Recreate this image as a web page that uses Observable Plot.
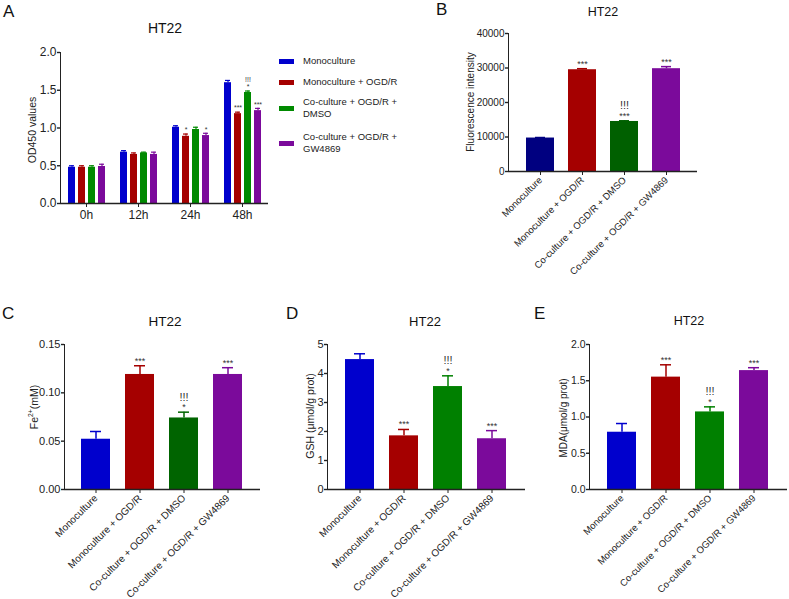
<!DOCTYPE html>
<html><head><meta charset="utf-8">
<script src="https://cdn.jsdelivr.net/npm/d3@7"></script>
<script src="https://cdn.jsdelivr.net/npm/@observablehq/plot@0.6"></script>
<style>
body{margin:0;background:#fff;font-family:"Liberation Sans",Arial,sans-serif;}
#fig{position:relative;width:789px;height:599px;overflow:hidden;background:#fff;}
.p{position:absolute;}
.lab{position:absolute;font-size:17px;line-height:1;color:#111;}
.ttl{position:absolute;line-height:1;color:#111;transform:translateX(-50%);white-space:nowrap;}
.leg{position:absolute;font-size:9.5px;line-height:12px;color:#222;}
.sw{position:absolute;width:15px;height:5px;}
.yl{position:absolute;line-height:1;color:#222;white-space:nowrap;transform:translate(-50%,-50%) rotate(-90deg);}
.yl sup{font-size:0.65em;line-height:0;}
#fig svg g[aria-label^="y-axis"] path, #fig svg g[aria-label^="y-axis"] line{stroke-width:1.4;}
#fig svg.pb g[aria-label^="y-axis"] text{font-size:10px;}
#fig svg.pc g[aria-label^="y-axis"] text{font-size:11px;}
#fig svg.pd g[aria-label^="y-axis"] text{font-size:11px;}
#fig svg.pe g[aria-label^="y-axis"] text{font-size:10.5px;}
</style></head>
<body><div id="fig"></div>
<script>
// ---------- data ----------
const groups = ["Monoculture", "Monoculture + OGD/R", "Co-culture + OGD/R + DMSO", "Co-culture + OGD/R + GW4869"];
const times = ["0h", "12h", "24h", "48h"];
// Panel A: OD450 values (rows = time, cols = group)
const odMean = [[0.48, 0.48, 0.48, 0.49], [0.68, 0.65, 0.67, 0.65], [1.01, 0.89, 0.98, 0.90], [1.60, 1.19, 1.47, 1.23]];
const odErr  = [[0.02, 0.02, 0.02, 0.03], [0.02, 0.02, 0.01, 0.03], [0.02, 0.03, 0.03, 0.03], [0.03, 0.02, 0.02, 0.03]];
const odSig  = [["", "", "", ""], ["", "", "", ""], ["", "*", "", "*"], ["", "***", "*", "***"]];
const odSig2 = [["", "", "", ""], ["", "", "", ""], ["", "", "", ""], ["", "", "!!!", ""]];
// Panel B: fluorescence intensity
const fluoMean = [9700, 29500, 14500, 29800];
const fluoErr  = [150, 300, 200, 600];
const fluoSig  = ["", "***", "***", "***"];
const fluoSig2 = ["", "", "!!!", ""];
// Panel C: Fe2+ (mM)
const feMean = [0.052, 0.119, 0.074, 0.119];
const feErr  = [0.008, 0.009, 0.006, 0.007];
const feSig  = ["", "***", "*", "***"];
const feSig2 = ["", "", "!!!", ""];
// Panel D: GSH
const gshMean = [4.48, 1.85, 3.55, 1.75];
const gshErr  = [0.20, 0.22, 0.37, 0.28];
const gshSig  = ["", "***", "*", "***"];
const gshSig2 = ["", "", "!!!", ""];
// Panel E: MDA
const mdaMean = [0.79, 1.55, 1.07, 1.64];
const mdaErr  = [0.12, 0.17, 0.07, 0.04];
const mdaSig  = ["", "***", "*", "***"];
const mdaSig2 = ["", "", "!!!", ""];

const colA = ["#0000CD", "#A50000", "#008A00", "#7B0A9B"];
const colB = ["#000080", "#A50000", "#006000", "#7B0A9B"];
const colC = ["#0000CD", "#A50000", "#006400", "#7B0A9B"];
const colD = ["#0000CD", "#A50000", "#008000", "#7B0A9B"];

const fig = document.getElementById("fig");
const baseStyle = (fs) => ({fontFamily: "'Liberation Sans', Arial, sans-serif", fontSize: fs + "px", color: "#222", background: "transparent", overflow: "visible"});

function place(el, left, top, cls) {
  el.classList.add("p");
  if (cls) el.classList.add(cls);
  el.style.left = left + "px";
  el.style.top = top + "px";
  fig.appendChild(el);
}
function html(cls, text, left, top, extra) {
  const d = document.createElement("div");
  d.className = cls;
  d.innerHTML = text;
  d.style.left = left + "px";
  d.style.top = top + "px";
  if (extra) Object.assign(d.style, extra);
  fig.appendChild(d);
}

// ---------- Panel A ----------
const odRows = [];
times.forEach((t, i) => groups.forEach((g, j) => odRows.push({time: t, group: g, mean: odMean[i][j], err: odErr[i][j], sig: odSig[i][j], sig2: odSig2[i][j]})));
const plotA = Plot.plot({
  width: 275, height: 190, marginLeft: 59, marginRight: 7, marginTop: 12, marginBottom: 27,
  style: baseStyle(12),
  fx: {domain: times, padding: 0, label: null, tickSize: 4, axis: "bottom", tickPadding: 3},
  x: {domain: groups, axis: null, paddingInner: 0.32, paddingOuter: 0.54},
  y: {domain: [0, 2], ticks: [0, 0.5, 1, 1.5, 2], tickFormat: d3.format(".1f"), line: true, tickSize: 3, tickPadding: 1, label: null},
  color: {domain: groups, range: colA},
  marks: [
    Plot.barY(odRows, {fx: "time", x: "group", y: "mean", fill: "group"}),
    Plot.ruleX(odRows, {fx: "time", x: "group", y1: "mean", y2: d => d.mean + d.err, stroke: "group", strokeWidth: 1.2}),
    Plot.tickY(odRows, {fx: "time", x: "group", y: d => d.mean + d.err, stroke: "group", strokeWidth: 1.2, insetLeft: 1, insetRight: 1}),
    Plot.text(odRows, {fx: "time", x: "group", y: d => d.mean + d.err, text: "sig", dy: -4, fontSize: 7, fill: "#333"}),
    Plot.text(odRows, {fx: "time", x: "group", y: d => d.mean + d.err, text: "sig2", dy: -11, fontSize: 7, fill: "#333"}),
    Plot.ruleY([0], {strokeWidth: 1.5, stroke: "#222"})
  ]
});
place(plotA, 0, 40, "pa");

// ---------- Single-group bar panels ----------
function barPanel(o) {
  const rows = groups.map((g, i) => ({group: g, mean: o.mean[i], err: o.err[i], sig: o.sig[i], sig2: o.sig2[i]}));
  return Plot.plot({
    width: o.width, height: o.height, marginLeft: o.ml, marginRight: o.mr, marginTop: o.mt, marginBottom: o.mb,
    style: baseStyle(o.fs),
    x: {domain: groups, paddingInner: o.pi, paddingOuter: o.po, tickRotate: -45, tickSize: 4, label: null, tickPadding: 3},
    y: {domain: o.yDomain, ticks: o.yTicks, tickFormat: o.yFormat, line: true, tickSize: 3, tickPadding: 1, label: null},
    color: {domain: groups, range: o.colors},
    marks: [
      Plot.barY(rows, {x: "group", y: "mean", fill: "group"}),
      Plot.ruleX(rows, {x: "group", y1: "mean", y2: d => d.mean + d.err, stroke: "group", strokeWidth: 1.5}),
      Plot.tickY(rows, {x: "group", y: d => d.mean + d.err, stroke: "group", strokeWidth: 1.5, insetLeft: o.capInset, insetRight: o.capInset}),
      Plot.text(rows, {x: "group", y: d => d.mean + d.err, text: "sig", dy: -5, fontSize: 9, fill: "#333"}),
      Plot.text(rows, {x: "group", y: d => d.mean + d.err, text: "sig2", dy: -15, fontSize: 11, fill: "#333"}),
      Plot.ruleY([0], {strokeWidth: 1.5, stroke: "#222"})
    ]
  });
}

const plotB = barPanel({mean: fluoMean, err: fluoErr, sig: fluoSig, sig2: fluoSig2, colors: colB, fs: 9.5,
  width: 290, height: 280, ml: 88, mr: 13, mt: 13, mb: 129, pi: 0.34, po: 0.37,
  yDomain: [0, 40000], yTicks: [0, 10000, 20000, 30000, 40000], yFormat: d3.format("d"), capInset: 9});
place(plotB, 420, 20, "pb");

const plotC = barPanel({mean: feMean, err: feErr, sig: feSig, sig2: feSig2, colors: colC, fs: 10,
  width: 270, height: 269, ml: 64, mr: 10, mt: 14, mb: 110, pi: 0.333, po: 0.367,
  yDomain: [0, 0.15], yTicks: [0, 0.05, 0.10, 0.15], yFormat: d3.format(".2f"), capInset: 9});
place(plotC, 0, 330, "pc");

const plotD = barPanel({mean: gshMean, err: gshErr, sig: gshSig, sig2: gshSig2, colors: colD, fs: 10,
  width: 265, height: 269, ml: 62, mr: 5, mt: 14, mb: 110, pi: 0.333, po: 0.367,
  yDomain: [0, 5], yTicks: [0, 1, 2, 3, 4, 5], yFormat: d3.format("d"), capInset: 9});
place(plotD, 265, 330, "pd");

const plotE = barPanel({mean: mdaMean, err: mdaErr, sig: mdaSig, sig2: mdaSig2, colors: colD, fs: 9.5,
  width: 259, height: 269, ml: 59, mr: 2, mt: 14, mb: 110, pi: 0.333, po: 0.367,
  yDomain: [0, 2], yTicks: [0, 0.5, 1, 1.5, 2], yFormat: d3.format(".1f"), capInset: 9});
place(plotE, 530, 330, "pe");

// ---------- y-axis labels ----------
html("yl", "OD450 values", 32, 130, {fontSize: "10.5px"});
html("yl", "Fluorescence intensity", 471, 102, {fontSize: "10px"});
html("yl", "Fe<sup>2+</sup>(mM)", 34, 407, {fontSize: "10.5px"});
html("yl", "GSH (μmol/g prot)", 310, 416, {fontSize: "10.5px"});
html("yl", "MDA(μmol/g prot)", 564, 418, {fontSize: "10px"});

// ---------- panel letters & titles ----------
html("lab", "A", 3, 3);
html("lab", "B", 436, 1);
html("lab", "C", 2, 305);
html("lab", "D", 286, 305);
html("lab", "E", 534, 305);
html("ttl", "HT22", 165, 21, {fontSize: "14px"});
html("ttl", "HT22", 603, 6, {fontSize: "12.5px"});
html("ttl", "HT22", 165, 315, {fontSize: "13.5px"});
html("ttl", "HT22", 425, 315, {fontSize: "13px"});
html("ttl", "HT22", 689, 315, {fontSize: "12.5px"});

// ---------- legend for panel A ----------
const legLines = ["Monoculture", "Monoculture + OGD/R", "Co-culture + OGD/R +<br>DMSO", "Co-culture + OGD/R +<br>GW4869"];
const legY = [55, 76, 96, 131];
const swY = [59, 80, 106, 141];
groups.forEach((g, i) => {
  const s = document.createElement("div");
  s.className = "sw";
  s.style.left = "279px";
  s.style.top = swY[i] + "px";
  s.style.background = colA[i];
  fig.appendChild(s);
  html("leg", legLines[i], 303, legY[i]);
});
</script>
</body></html>
